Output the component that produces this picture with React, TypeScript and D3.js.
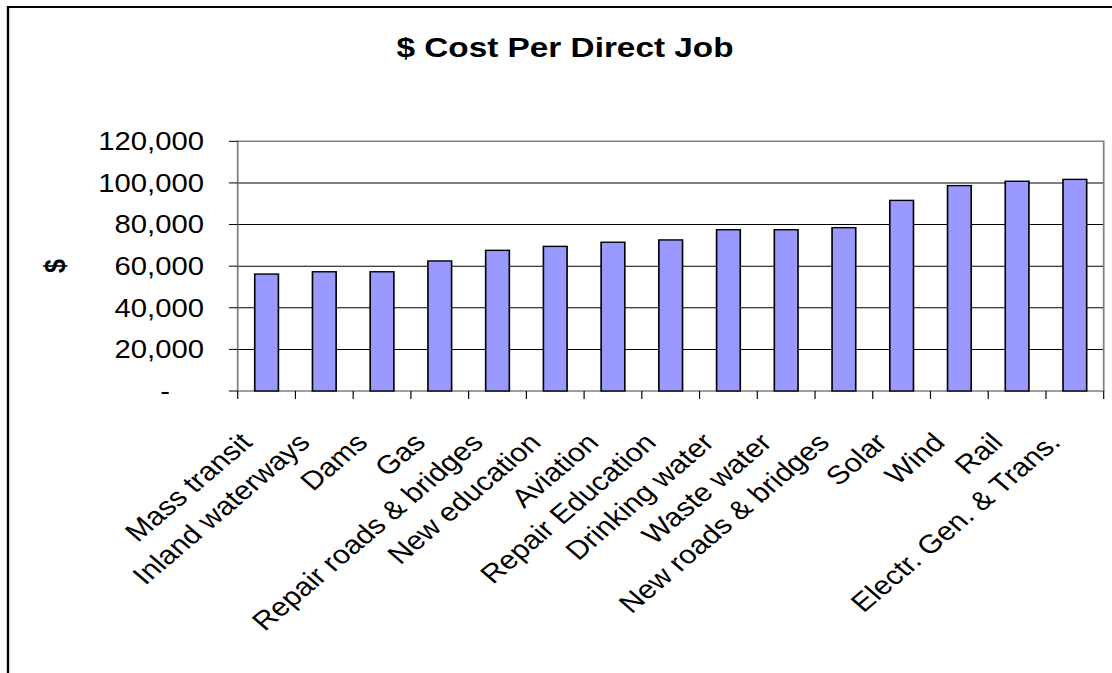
import React from 'react';
import { scaleBand, scaleLinear, format } from 'd3';

// categories and values
const categories: string[] = [
  'Mass transit',
  'Inland waterways',
  'Dams',
  'Gas',
  'Repair roads & bridges',
  'New education',
  'Aviation',
  'Repair Education',
  'Drinking water',
  'Waste water',
  'New roads & bridges',
  'Solar',
  'Wind',
  'Rail',
  'Electr. Gen. & Trans.',
];

const costPerJob: number[] = [
  56200, 57300, 57300, 62500, 67600, 69500, 71500, 72600, 77500, 77500, 78500,
  91600, 98700, 100800, 101700,
];

const yTicks: number[] = [0, 20000, 40000, 60000, 80000, 100000, 120000];

const chartTitle = '$ Cost Per Direct Job';
const yTitle = '$';

// the original picture is stretched sideways, so draw in narrow units and stretch
const SX = 1.17;
const width = 1112;
const height = 673;
const vw = width / SX;

const margin = { top: 141.3, right: vw - 1103.7 / SX, bottom: height - 391, left: 237.7 / SX };
const font = "Arial, 'Liberation Sans', sans-serif";

export default function App() {
  const x = scaleBand<string>()
    .domain(categories)
    .range([margin.left, vw - margin.right])
    .paddingInner(0.59)
    .paddingOuter(0.295);

  const y = scaleLinear()
    .domain([0, 120000])
    .range([height - margin.bottom, margin.top]);

  const step = x.step();
  const x0 = margin.left;
  const x1 = vw - margin.right;
  const yBase = y(0);
  const tickFmt = format(',');

  const boundaries = categories.map((_, i) => x0 + i * step).concat([x1]);

  return (
    <svg
      width={width}
      height={height}
      viewBox={`0 0 ${vw} ${height}`}
      preserveAspectRatio='none'
      style={{ position: 'absolute', left: 0, top: 0, background: '#fff' }}
    >
      {/* outer chart border, only top and left visible */}
      <path
        d={`M${8 / SX},${height + 5} L${8 / SX},7 L${vw + 5},7`}
        fill='none'
        stroke='#000'
        strokeWidth={2}
      />

      <text
        x={565 / SX}
        y={57}
        textAnchor='middle'
        fontFamily={font}
        fontWeight='bold'
        fontSize={28.5}
        fill='#000'
      >
        {chartTitle}
      </text>

      {/* gridlines */}
      {yTicks
        .filter(d => d > 0 && d < 120000)
        .map(d => (
          <line
            key={'g' + d}
            x1={x0}
            x2={x1}
            y1={y(d)}
            y2={y(d)}
            stroke='#000'
            strokeWidth={1}
          />
        ))}

      {/* plot frame */}
      <path
        d={`M${x0},${yBase} L${x0},${y(120000)} L${x1},${y(120000)} L${x1},${yBase} Z`}
        fill='none'
        stroke='#808080'
        strokeWidth={1.5}
      />

      {/* bars */}
      {categories.map((c, i) => (
        <rect
          key={c}
          x={x(c)}
          y={y(costPerJob[i])}
          width={x.bandwidth()}
          height={yBase - y(costPerJob[i])}
          fill='#9999FF'
          stroke='#000'
          strokeWidth={1.4}
        />
      ))}

      {/* y ticks + labels */}
      {yTicks.map(d => (
        <g key={'y' + d}>
          <line x1={x0 - 7.5} x2={x0} y1={y(d)} y2={y(d)} stroke='#000' strokeWidth={1} />
          <text
            x={204 / SX}
            dx={d === 0 ? -29 : 0}
            y={y(d)}
            dy='0.35em'
            textAnchor='end'
            fontFamily={font}
            fontSize={25}
            fill='#000'
          >
            {d === 0 ? '-' : tickFmt(d)}
          </text>
        </g>
      ))}

      {/* x ticks at category boundaries */}
      {boundaries.map((bx, i) => (
        <line key={'xt' + i} x1={bx} x2={bx} y1={yBase} y2={yBase + 8} stroke='#000' strokeWidth={1} />
      ))}

      {/* x labels */}
      {categories.map(c => {
        const cx = (x(c) ?? 0) + x.bandwidth() / 2 - 11;
        const cy = yBase + 53;
        return (
          <text
            key={'l' + c}
            transform={`translate(${cx},${cy}) rotate(-45)`}
            textAnchor='end'
            fontFamily={font}
            fontSize={26}
            fill='#000'
          >
            {c}
          </text>
        );
      })}

      {/* y title */}
      <text
        transform={`translate(${55 / SX},${(y(0) + y(120000)) / 2}) rotate(-90)`}
        textAnchor='middle'
        dy='0.35em'
        fontFamily={font}
        fontWeight='bold'
        fontSize={25}
        fill='#000'
      >
        {yTitle}
      </text>
    </svg>
  );
}
